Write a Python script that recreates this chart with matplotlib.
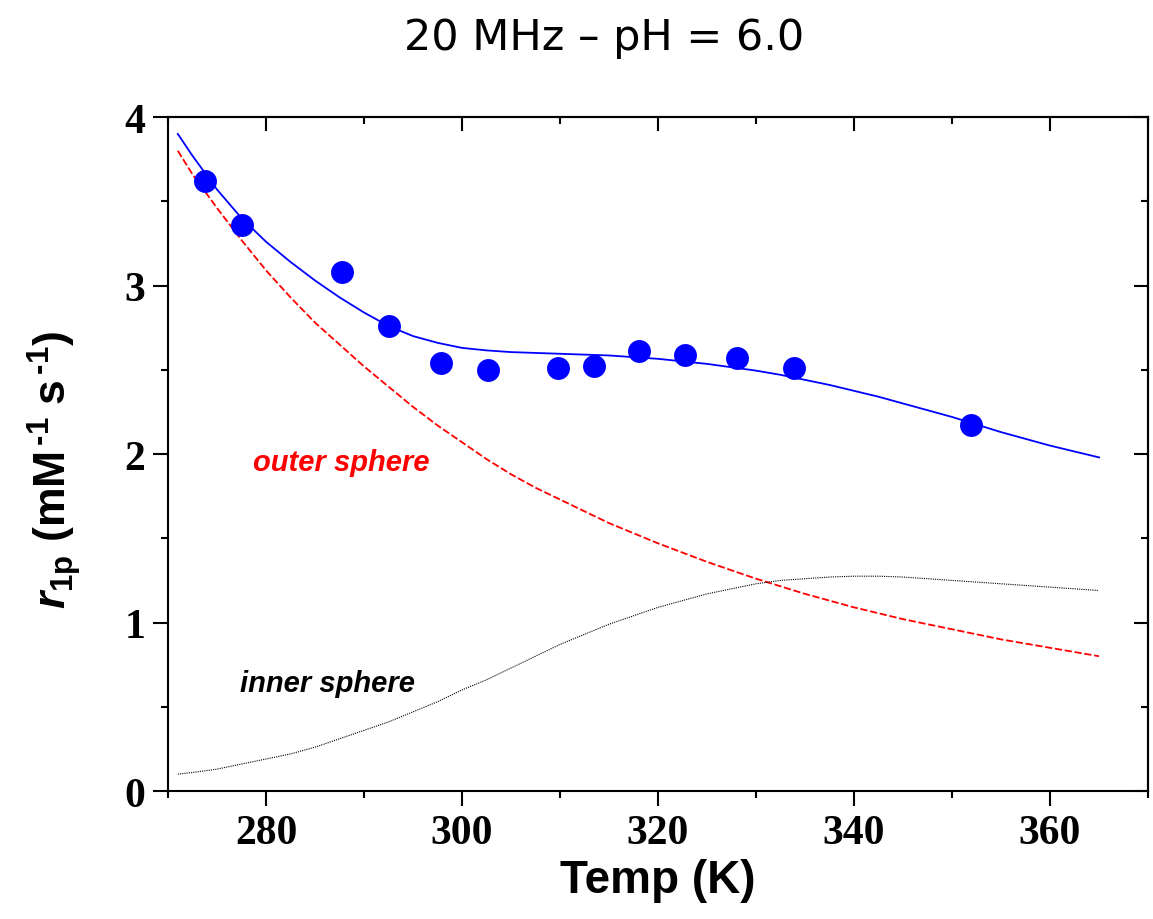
import matplotlib
matplotlib.use('Agg')
import matplotlib.pyplot as plt
from matplotlib.ticker import MultipleLocator

# measured relaxivity (blue dots)
temp_pts = [273.8, 277.6, 287.8, 292.6, 297.9, 302.7, 309.8, 313.5, 318.1, 322.8, 328.1, 333.9, 351.9]
r1p_pts = [3.62, 3.36, 3.08, 2.76, 2.54, 2.50, 2.51, 2.52, 2.61, 2.59, 2.57, 2.51, 2.17]

# fitted curves
temp_fit = [271, 272.5, 275, 277.5, 280, 282.5, 285, 287.5, 290, 292.5, 295, 297.5, 300,
            302.5, 305, 307.5, 310, 312.5, 315, 317.5, 320, 322.5, 325, 327.5, 330,
            332.5, 335, 337.5, 340, 342.5, 345, 347.5, 350, 352.5, 355, 357.5, 360, 362.5, 365]
total_fit = [3.90, 3.77, 3.57, 3.40, 3.26, 3.14, 3.03, 2.93, 2.84, 2.76, 2.70, 2.66, 2.63,
             2.615, 2.605, 2.60, 2.595, 2.59, 2.585, 2.575, 2.565, 2.55, 2.535, 2.515, 2.495,
             2.47, 2.44, 2.41, 2.375, 2.34, 2.30, 2.26, 2.22, 2.175, 2.13, 2.09, 2.05, 2.015, 1.98]
outer_fit = [3.80, 3.66, 3.46, 3.27, 3.09, 2.93, 2.78, 2.65, 2.52, 2.40, 2.28, 2.17, 2.07,
             1.97, 1.88, 1.80, 1.73, 1.66, 1.59, 1.53, 1.47, 1.415, 1.36, 1.31, 1.26,
             1.215, 1.17, 1.13, 1.09, 1.055, 1.02, 0.99, 0.96, 0.93, 0.90, 0.875, 0.85, 0.825, 0.80]
inner_fit = [0.10, 0.11, 0.13, 0.16, 0.19, 0.22, 0.26, 0.31, 0.36, 0.41, 0.47, 0.53, 0.60,
             0.66, 0.73, 0.80, 0.87, 0.93, 0.99, 1.04, 1.09, 1.13, 1.17, 1.20, 1.23,
             1.25, 1.26, 1.27, 1.275, 1.275, 1.27, 1.26, 1.25, 1.24, 1.23, 1.22, 1.21, 1.20, 1.19]

plt.rcParams['mathtext.fontset'] = 'custom'
plt.rcParams['mathtext.rm'] = 'Liberation Sans:bold'
plt.rcParams['mathtext.it'] = 'Liberation Sans:bold:italic'
plt.rcParams['mathtext.bf'] = 'Liberation Sans:bold'

fig = plt.figure(figsize=(11.53, 9.2), dpi=100)
ax = fig.add_axes([0.1457, 0.1391, 0.85, 0.7326])

ax.plot(temp_fit, total_fit, color='#0000ff', lw=1.3)
ax.plot(temp_fit, outer_fit, color='red', lw=1.3, linestyle=(0, (4, 1.5)))
ax.plot(temp_fit, inner_fit, color='black', lw=0.8, linestyle=(0, (1, 1)))
ax.plot(temp_pts, r1p_pts, 'o', color='#0000ff', markersize=16.5, markeredgewidth=0)

ax.text(287.7, 1.95, 'outer sphere', color='red', fontsize=21, fontweight='bold',
        fontstyle='italic', family='Liberation Sans', ha='center', va='center')
ax.text(286.3, 0.64, 'inner sphere', color='black', fontsize=21, fontweight='bold',
        fontstyle='italic', family='Liberation Sans', ha='center', va='center')

ax.set_xlim(270, 370)
ax.set_ylim(0, 4)
ax.xaxis.set_major_locator(MultipleLocator(20))
ax.xaxis.set_minor_locator(MultipleLocator(10))
ax.yaxis.set_major_locator(MultipleLocator(1))
ax.yaxis.set_minor_locator(MultipleLocator(0.5))
ax.set_xticks([280, 300, 320, 340, 360])

for s in ax.spines.values():
    s.set_linewidth(1.5)
ax.tick_params(which='major', direction='out', length=10.5, width=1.5, pad=6)
ax.tick_params(which='minor', direction='out', length=5, width=1.5)
for lab in ax.get_xticklabels() + ax.get_yticklabels():
    lab.set_family('Liberation Serif')
    lab.set_fontweight('bold')
    lab.set_fontsize(30)

# inward ticks on the top and right frame
top = ax.secondary_xaxis('top')
top.xaxis.set_major_locator(MultipleLocator(20))
top.xaxis.set_minor_locator(MultipleLocator(10))
top.set_xticks([280, 300, 320, 340, 360])
top.tick_params(which='major', direction='in', length=10, width=1.5, labeltop=False)
top.tick_params(which='minor', direction='in', length=5, width=1.5)
top.spines['top'].set_linewidth(1.5)
right = ax.secondary_yaxis('right')
right.yaxis.set_major_locator(MultipleLocator(1))
right.yaxis.set_minor_locator(MultipleLocator(0.5))
right.tick_params(which='major', direction='in', length=10, width=1.5, labelright=False)
right.tick_params(which='minor', direction='in', length=5, width=1.5)
right.spines['right'].set_linewidth(1.5)

ax.set_xlabel('Temp (K)', family='Liberation Sans', fontweight='bold', fontsize=33, labelpad=4)
ax.set_ylabel(r'$\mathit{r}_{\mathrm{1p}}$ (mM$^{\,\text{-1}}$ s$^{\,\text{-1}}$)',
              family='Liberation Sans', fontweight='bold', fontsize=32)
ax.yaxis.set_label_coords(-0.087, 0.478)

fig.text(0.524, 1 - 50 / 920, '20 MHz \u2013 pH = 6.0', family='DejaVu Sans',
         fontsize=31, ha='center', va='baseline')

fig.savefig('out.png', dpi=100)
